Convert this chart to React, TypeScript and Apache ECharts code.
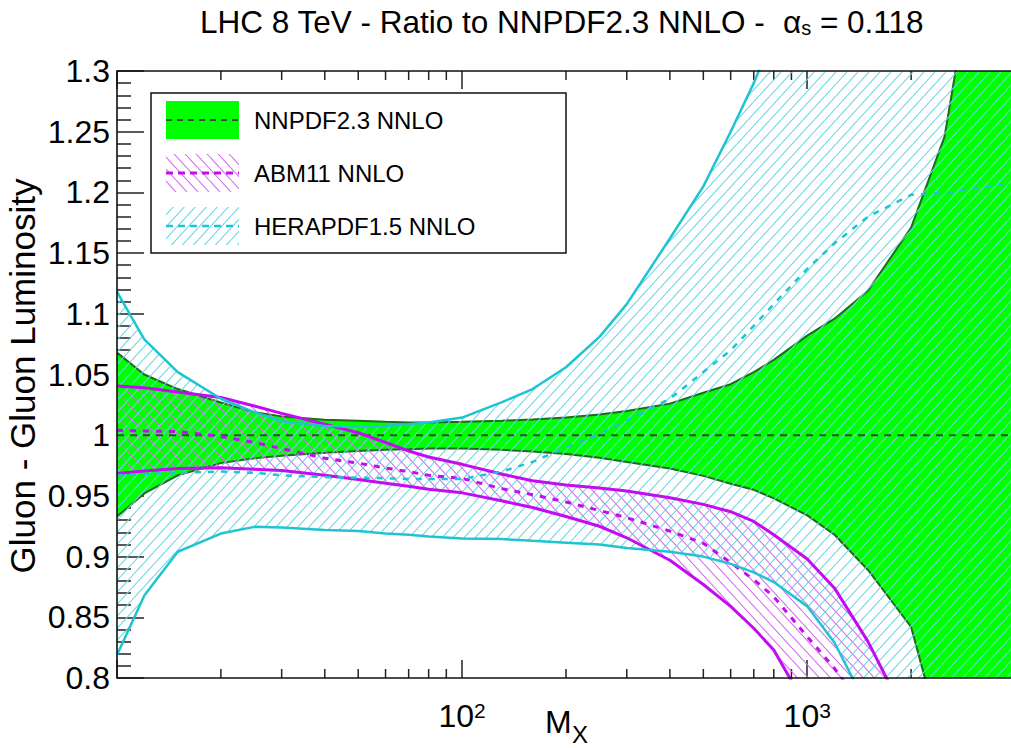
import React, { useEffect, useRef } from 'react';
import * as echarts from 'echarts';

// ---- data ----
const masses = [10, 12, 15, 20, 25, 30, 40, 50, 60, 70, 80, 100, 130, 160, 200, 250, 300, 400, 500, 600, 700, 800, 1000, 1200, 1500, 2000, 2500, 3000, 4000];

const nnpdfUpper = [1.068, 1.05, 1.038, 1.027, 1.019, 1.0155, 1.0128, 1.012, 1.011, 1.0105, 1.0105, 1.011, 1.012, 1.013, 1.0145, 1.017, 1.02, 1.026, 1.035, 1.042, 1.052, 1.062, 1.082, 1.096, 1.119, 1.171, 1.246, 1.38, 1.7];
const nnpdfLower = [0.933, 0.952, 0.967, 0.977, 0.981, 0.983, 0.9855, 0.987, 0.988, 0.9885, 0.989, 0.989, 0.988, 0.9865, 0.9845, 0.9815, 0.978, 0.9725, 0.9665, 0.96, 0.955, 0.948, 0.934, 0.918, 0.889, 0.842, 0.74, 0.6, 0.3];
const nnpdfCentral = [1, 1, 1, 1, 1, 1, 1, 1, 1, 1, 1, 1, 1, 1, 1, 1, 1, 1, 1, 1, 1, 1, 1, 1, 1, 1, 1, 1, 1];

const abmUpper = [1.0405, 1.039, 1.0355, 1.031, 1.024, 1.018, 1.009, 1.002, 0.994, 0.987, 0.982, 0.976, 0.968, 0.9625, 0.959, 0.9565, 0.954, 0.9485, 0.943, 0.937, 0.929, 0.918, 0.898, 0.874, 0.83, 0.76, 0.7, 0.65, 0.55];
const abmLower = [0.9685, 0.9705, 0.9725, 0.9732, 0.972, 0.971, 0.967, 0.9635, 0.9605, 0.958, 0.9555, 0.9525, 0.946, 0.9405, 0.933, 0.925, 0.9155, 0.897, 0.877, 0.859, 0.841, 0.823, 0.775, 0.73, 0.67, 0.6, 0.55, 0.5, 0.4];
const abmCentral = [1.004, 1.0035, 1.003, 0.999, 0.994, 0.989, 0.981, 0.977, 0.973, 0.97, 0.967, 0.9644, 0.956, 0.951, 0.945, 0.938, 0.932, 0.921, 0.911, 0.895, 0.881, 0.867, 0.834, 0.808, 0.77, 0.7, 0.64, 0.59, 0.5];

const heraUpper = [1.118, 1.079, 1.052, 1.03, 1.019, 1.0115, 1.0075, 1.007, 1.0075, 1.009, 1.0105, 1.0145, 1.027, 1.038, 1.056, 1.081, 1.108, 1.162, 1.205, 1.25, 1.29, 1.33, 1.4, 1.47, 1.56, 1.7, 1.8, 1.9, 2.05];
const heraLower = [0.819, 0.868, 0.904, 0.919, 0.9245, 0.924, 0.922, 0.921, 0.919, 0.918, 0.9165, 0.915, 0.9145, 0.913, 0.9115, 0.91, 0.907, 0.904, 0.9, 0.894, 0.887, 0.879, 0.859, 0.829, 0.775, 0.7, 0.64, 0.58, 0.48];
const heraCentral = [0.967, 0.968, 0.969, 0.97, 0.969, 0.967, 0.9655, 0.965, 0.9645, 0.964, 0.964, 0.964, 0.97, 0.978, 0.99, 1.001, 1.012, 1.03, 1.052, 1.07, 1.09, 1.108, 1.137, 1.158, 1.18, 1.198, 1.1995, 1.203, 1.208];

const minorTickMasses = [20, 30, 40, 50, 60, 70, 80, 90, 200, 300, 400, 500, 600, 700, 800, 900, 2000, 3000, 4000];
const legendNames = ['NNPDF2.3 NNLO', 'ABM11 NNLO', 'HERAPDF1.5 NNLO'];
const titleMain = 'LHC 8 TeV - Ratio to NNPDF2.3 NNLO -  ';
const titleTail = ' = 0.118';
const yAxisTitle = 'Gluon - Gluon Luminosity';

// ---- styles ----
const FONT = "'Liberation Sans', Arial, Helvetica, sans-serif";
const GREEN = '#00ff00';
const GREEN_EDGE = '#1f6a1f';
const GREEN_DASH = '#2f4f2f';
const MAGENTA = '#c40cf0';
const MAGENTA_HATCH = '#d56cf2';
const CYAN = '#1ec4d2';
const CYAN_HATCH = '#6ad6e2';

function hatch(color: string, forward: boolean, w = 11, h = 12, lw = 1.1) {
  const c = document.createElement('canvas');
  c.width = w;
  c.height = h;
  const g = c.getContext('2d')!;
  g.strokeStyle = color;
  g.lineWidth = lw;
  g.beginPath();
  for (const o of [-1, 0, 1]) {
    if (forward) {
      g.moveTo(o * w, h);
      g.lineTo(o * w + w, 0);
    } else {
      g.moveTo(o * w, 0);
      g.lineTo(o * w + w, h);
    }
  }
  g.stroke();
  return { image: c.toDataURL(), repeat: 'repeat', imageWidth: w, imageHeight: h };
}

type Pt = number[];
function clipPoly(pts: Pt[], x0: number, x1: number, y0: number, y1: number): Pt[] {
  const edges: [(p: Pt) => boolean, (a: Pt, b: Pt) => Pt][] = [
    [(p) => p[0] >= x0, (a, b) => { const t = (x0 - a[0]) / (b[0] - a[0]); return [x0, a[1] + t * (b[1] - a[1])]; }],
    [(p) => p[0] <= x1, (a, b) => { const t = (x1 - a[0]) / (b[0] - a[0]); return [x1, a[1] + t * (b[1] - a[1])]; }],
    [(p) => p[1] >= y0, (a, b) => { const t = (y0 - a[1]) / (b[1] - a[1]); return [a[0] + t * (b[0] - a[0]), y0]; }],
    [(p) => p[1] <= y1, (a, b) => { const t = (y1 - a[1]) / (b[1] - a[1]); return [a[0] + t * (b[0] - a[0]), y1]; }],
  ];
  let out = pts;
  for (const [inside, inter] of edges) {
    const inp = out;
    out = [];
    for (let i = 0; i < inp.length; i++) {
      const cur = inp[i];
      const prev = inp[(i + inp.length - 1) % inp.length];
      if (inside(cur)) {
        if (!inside(prev)) out.push(inter(prev, cur));
        out.push(cur);
      } else if (inside(prev)) {
        out.push(inter(prev, cur));
      }
    }
  }
  return out;
}

function bandSeries(upper: number[], lower: number[], fill: any, z: number) {
  return {
    type: 'custom',
    coordinateSystem: 'cartesian2d',
    silent: true,
    z,
    data: [[masses[0], upper[0]]],
    renderItem: (params: any, api: any) => {
      const pts: Pt[] = [];
      masses.forEach((m, i) => pts.push(api.coord([m, upper[i]])));
      for (let i = masses.length - 1; i >= 0; i--) pts.push(api.coord([masses[i], lower[i]]));
      const cs = params.coordSys;
      return {
        type: 'polygon',
        shape: { points: clipPoly(pts, cs.x, cs.x + cs.width, cs.y, cs.y + cs.height) },
        style: { fill, stroke: null },
      };
    },
  };
}

function lineSeries(vals: number[], color: string, width: number, dash: number[] | null, z: number) {
  return {
    type: 'line',
    data: masses.map((m, i) => [m, vals[i]]),
    showSymbol: false,
    symbol: 'none',
    silent: true,
    clip: true,
    z,
    lineStyle: { color, width, type: dash ? dash : 'solid' },
  };
}

export default function App() {
  const ref = useRef<HTMLDivElement>(null);
  useEffect(() => {
    const chart = echarts.init(ref.current!, null, { renderer: 'svg' });
    const cyanFill = hatch(CYAN_HATCH, true);
    const magFill = hatch(MAGENTA_HATCH, false);

    const gridLeft = 117;
    const gridTop = 71;
    const gridW = 898;
    const gridH = 607;

    const tickSeries = {
      type: 'custom',
      coordinateSystem: 'cartesian2d',
      silent: true,
      z: 1,
      data: minorTickMasses.map((m) => [m, 0.8]),
      renderItem: (params: any, api: any) => {
        const x = api.value(0);
        const b = api.coord([x, 0.8]);
        const t = api.coord([x, 1.3]);
        return {
          type: 'group',
          children: [
            { type: 'line', shape: { x1: b[0], y1: b[1], x2: b[0], y2: b[1] - 9 }, style: { stroke: '#222', lineWidth: 1.5 } },
            { type: 'line', shape: { x1: t[0], y1: t[1], x2: t[0], y2: t[1] + 9 }, style: { stroke: '#222', lineWidth: 1.5 } },
          ],
        };
      },
    };

    const xCommon = {
      type: 'log',
      logBase: 10,
      min: 10,
      max: 4000,
      axisLine: { show: false },
      splitLine: { show: false },
      axisTick: { show: true, inside: true, length: 18, lineStyle: { color: '#222', width: 1.5 } },
    };

    const legendY = [120, 173, 226];
    const legendFills = [GREEN, magFill, cyanFill];
    const legendDash = [
      { stroke: GREEN_DASH, lineWidth: 2, lineDash: [6, 5] },
      { stroke: MAGENTA, lineWidth: 3, lineDash: [7, 5] },
      { stroke: CYAN, lineWidth: 2.5, lineDash: [7, 5] },
    ];

    const legendEls: any[] = [
      { type: 'rect', z: 100, shape: { x: 151, y: 93, width: 415, height: 160 }, style: { fill: '#fff', stroke: '#111', lineWidth: 1.5 } },
    ];
    legendNames.forEach((name, i) => {
      legendEls.push({ type: 'rect', z: 101, shape: { x: 166, y: legendY[i] - 19, width: 73, height: 38 }, style: { fill: legendFills[i] } });
      legendEls.push({ type: 'line', z: 102, shape: { x1: 166, y1: legendY[i], x2: 239, y2: legendY[i] }, style: legendDash[i] });
      legendEls.push({
        type: 'text', z: 102, x: 254, y: legendY[i],
        style: { text: name, fontSize: 24, fontFamily: FONT, fill: '#000', align: 'left', verticalAlign: 'middle' },
      });
    });

    const option: any = {
      animation: false,
      backgroundColor: '#fff',
      textStyle: { fontFamily: FONT },
      title: {
        text: `{t|${titleMain}}{a|α}{s|s}{t|${titleTail}}`,
        left: 200,
        top: 6,
        padding: 0,
        textStyle: {
          fontWeight: 'normal',
          rich: {
            t: { fontSize: 31.5, fontWeight: 'normal', fontFamily: FONT, color: '#000' },
            a: { fontSize: 31.5, fontWeight: 'normal', fontFamily: FONT, color: '#000' },
            s: { fontSize: 20, fontWeight: 'normal', fontFamily: FONT, color: '#000', verticalAlign: 'bottom' },
          },
        },
      },
      grid: { left: gridLeft, top: gridTop, width: gridW, height: gridH, outerBoundsMode: 'none', containLabel: false },
      xAxis: [
        {
          ...xCommon,
          position: 'bottom',
          axisLabel: {
            margin: 22,
            showMaxLabel: false,
            formatter: (v: number) => {
              const l = Math.log10(v);
              const p = Math.round(l);
              return p <= 1 || Math.abs(l - p) > 1e-6 ? '' : `{b|10}{s|${p}}`;
            },
            rich: {
              b: { fontSize: 32, fontFamily: FONT, color: '#000' },
              s: { fontSize: 21, fontFamily: FONT, color: '#000', verticalAlign: 'top' },
            },
          },
        },
        { ...xCommon, position: 'top', axisLabel: { show: false } },
      ],
      yAxis: {
        type: 'value',
        min: 0.8,
        max: 1.3,
        interval: 0.05,
        axisLine: { show: false },
        splitLine: { show: false },
        axisTick: { show: true, inside: true, length: 27, lineStyle: { color: '#222', width: 1.5 } },
        minorTick: { show: true, splitNumber: 5, length: 14, lineStyle: { color: '#222', width: 1.5 } },
        minorSplitLine: { show: false },
        axisLabel: {
          margin: 7,
          fontSize: 32,
          fontFamily: FONT,
          color: '#000',
          formatter: (v: number) => String(+v.toFixed(2)),
        },
      },
      graphic: [
        {
          type: 'rect', z: 100,
          shape: { x: gridLeft, y: gridTop, width: gridW, height: gridH },
          style: { fill: 'none', stroke: '#111', lineWidth: 1.6 },
        },
        {
          type: 'text', z: 100, x: 22, y: 376, rotation: Math.PI / 2,
          style: { text: yAxisTitle, fontSize: 35, fontFamily: FONT, fill: '#000', align: 'center', verticalAlign: 'middle' },
        },
        {
          type: 'text', z: 100, x: 545, y: 722,
          style: { text: 'M', fontSize: 32, fontFamily: FONT, fill: '#000', align: 'left', verticalAlign: 'middle' },
        },
        {
          type: 'text', z: 100, x: 572, y: 734,
          style: { text: 'X', fontSize: 24, fontFamily: FONT, fill: '#000', align: 'left', verticalAlign: 'middle' },
        },
        ...legendEls,
      ],
      series: [
        tickSeries,
        bandSeries(nnpdfUpper, nnpdfLower, GREEN, 2),
        lineSeries(nnpdfUpper, GREEN_EDGE, 2, null, 3),
        lineSeries(nnpdfLower, GREEN_EDGE, 2, null, 3),
        bandSeries(abmUpper, abmLower, magFill, 4),
        bandSeries(heraUpper, heraLower, cyanFill, 5),
        lineSeries(nnpdfCentral, GREEN_DASH, 2, [7, 6], 6),
        lineSeries(abmUpper, MAGENTA, 3, null, 6),
        lineSeries(abmLower, MAGENTA, 3, null, 6),
        lineSeries(abmCentral, MAGENTA, 3, [6, 7], 6),
        lineSeries(heraUpper, CYAN, 2.5, null, 7),
        lineSeries(heraLower, CYAN, 2.5, null, 7),
        lineSeries(heraCentral, CYAN, 2.5, [6, 7], 7),
      ],
    };
    chart.setOption(option);
    return () => chart.dispose();
  }, []);
  return <div ref={ref} style={{ position: 'fixed', left: 0, top: 0, width: 1011, height: 748, background: '#fff' }} />;
}
